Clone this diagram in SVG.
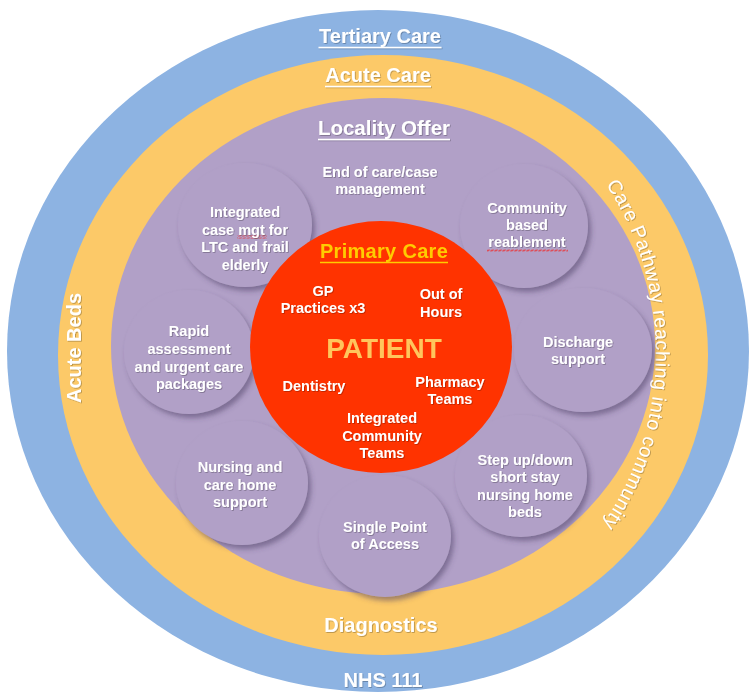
<svg xmlns="http://www.w3.org/2000/svg" width="749" height="693" viewBox="0 0 749 693">
<defs>
<style>
.lbl{font-family:"Liberation Sans",Arial,Helvetica,sans-serif;font-weight:bold;fill:#fff;text-anchor:middle}
.s{font-size:14.5px}
.big{font-size:20px}
.arc{font-size:19.5px;font-weight:normal;letter-spacing:0.6px;text-anchor:start}
.bub{fill:#B1A0C7;filter:url(#sh)}
.ul{stroke:#fff;stroke-width:1.6}
</style>
<filter id="sh" x="-20%" y="-20%" width="150%" height="150%">
<feDropShadow dx="3" dy="4" stdDeviation="2.5" flood-color="#4b3a63" flood-opacity="0.5"/>
</filter>
<filter id="tsh" x="-10%" y="-10%" width="120%" height="130%">
<feDropShadow dx="0.8" dy="0.8" stdDeviation="0.6" flood-color="#000" flood-opacity="0.3"/>
</filter>
<pattern id="wv" width="4" height="3" patternUnits="userSpaceOnUse">
<path d="M0 2.5 L1 0.5 L3 2.5 L4 0.5" fill="none" stroke="#e8383d" stroke-width="0.8"/>
</pattern>
<path id="arc" d="M 520.5 100.8 A 276 292 0 0 1 520.5 603.2"/>
</defs>
<rect width="749" height="693" fill="#fff"/>
<g id="rings">
<g id="tertiary"><ellipse cx="378" cy="351" rx="371" ry="341" fill="#8DB3E2"/></g>
<g id="acute"><ellipse cx="383" cy="355" rx="325" ry="300" fill="#FCC968"/></g>
<g id="locality"><ellipse cx="383" cy="346" rx="272" ry="248" fill="#B1A0C7"/></g>
</g>
<g id="ring-labels" class="lbl" filter="url(#tsh)">
<text class="big" x="380" y="43">Tertiary Care</text>
<line class="ul" x1="318.5" y1="47.5" x2="441.5" y2="47.5"/>
<text class="big" x="378" y="82">Acute Care</text>
<line class="ul" x1="325" y1="86.5" x2="431" y2="86.5"/>
<text x="384" y="135" style="font-size:20.5px">Locality Offer</text>
<line class="ul" x1="318" y1="139.5" x2="450" y2="139.5"/>
<text class="big" x="381" y="632">Diagnostics</text>
<text class="big" x="383" y="687">NHS 111</text>
<text class="big" transform="translate(81,348) rotate(-90)">Acute Beds</text>
<text class="arc"><textPath href="#arc" startOffset="120.6">Care Pathway</textPath></text>
<text class="arc"><textPath href="#arc" startOffset="256.3">reaching</textPath></text>
<text class="arc"><textPath href="#arc" startOffset="341.9">into</textPath></text>
<text class="arc"><textPath href="#arc" startOffset="381.8">community</textPath></text>
</g>
<g id="nodes">
<g id="integrated-case">
<ellipse class="bub" cx="245" cy="225" rx="67" ry="62"/>
<rect x="237" y="235.5" width="30" height="3" fill="url(#wv)"/>
<text class="lbl s" filter="url(#tsh)"><tspan x="245" y="217">Integrated</tspan><tspan x="245" y="234.5">case mgt for</tspan><tspan x="245" y="252">LTC  and frail</tspan><tspan x="245" y="269.5">elderly</tspan></text>
</g>
<g id="community-reablement">
<ellipse class="bub" cx="524" cy="226" rx="64" ry="62"/>
<rect x="487" y="249" width="81" height="3" fill="url(#wv)"/>
<text class="lbl s" filter="url(#tsh)"><tspan x="527" y="213">Community</tspan><tspan x="527" y="230">based</tspan><tspan x="527" y="247">reablement</tspan></text>
</g>
<g id="discharge">
<ellipse class="bub" cx="583" cy="350" rx="69" ry="62"/>
<text class="lbl s" filter="url(#tsh)"><tspan x="578" y="347">Discharge</tspan><tspan x="578" y="364">support</tspan></text>
</g>
<g id="step-up-down">
<ellipse class="bub" cx="521" cy="476" rx="66" ry="61"/>
<text class="lbl s" filter="url(#tsh)"><tspan x="525" y="465">Step up/down</tspan><tspan x="525" y="482">short stay</tspan><tspan x="525" y="499.5">nursing home</tspan><tspan x="525" y="517">beds</tspan></text>
</g>
<g id="single-point">
<ellipse class="bub" cx="385" cy="536" rx="66" ry="61"/>
<text class="lbl s" filter="url(#tsh)"><tspan x="385" y="532">Single Point</tspan><tspan x="385" y="549">of Access</tspan></text>
</g>
<g id="nursing-care">
<ellipse class="bub" cx="242" cy="483" rx="66" ry="62"/>
<text class="lbl s" filter="url(#tsh)"><tspan x="240" y="472">Nursing and</tspan><tspan x="240" y="490">care home</tspan><tspan x="240" y="507">support</tspan></text>
</g>
<g id="rapid-assessment">
<ellipse class="bub" cx="189" cy="352" rx="65" ry="62"/>
<text class="lbl s" filter="url(#tsh)"><tspan x="189" y="336">Rapid</tspan><tspan x="189" y="354">assessment</tspan><tspan x="189" y="372">and urgent care</tspan><tspan x="189" y="389">packages</tspan></text>
</g>
<g id="end-of-care">
<text class="lbl s" filter="url(#tsh)"><tspan x="380" y="177">End of care/case</tspan><tspan x="380" y="194">management</tspan></text>
</g>
<g id="primary-care">
<ellipse cx="381" cy="347" rx="131" ry="126" fill="#FF3300"/>
<text class="lbl big" x="384" y="258" style="fill:#FFCC00;letter-spacing:0.3px">Primary Care</text>
<line x1="320" y1="262.5" x2="448" y2="262.5" stroke="#FFCC00" stroke-width="1.6"/>
<text class="lbl" x="384" y="358" style="font-size:28px;fill:#FFC65C">PATIENT</text>
<g class="lbl s" filter="url(#tsh)">
<text><tspan x="323" y="296">GP</tspan><tspan x="323" y="313">Practices x3</tspan></text>
<text><tspan x="441" y="299">Out of</tspan><tspan x="441" y="317">Hours</tspan></text>
<text x="314" y="391">Dentistry</text>
<text><tspan x="450" y="387">Pharmacy</tspan><tspan x="450" y="404">Teams</tspan></text>
<text><tspan x="382" y="423">Integrated</tspan><tspan x="382" y="441">Community</tspan><tspan x="382" y="458">Teams</tspan></text>
</g>
</g>
</g>
<g id="connectors"/>
</svg>
